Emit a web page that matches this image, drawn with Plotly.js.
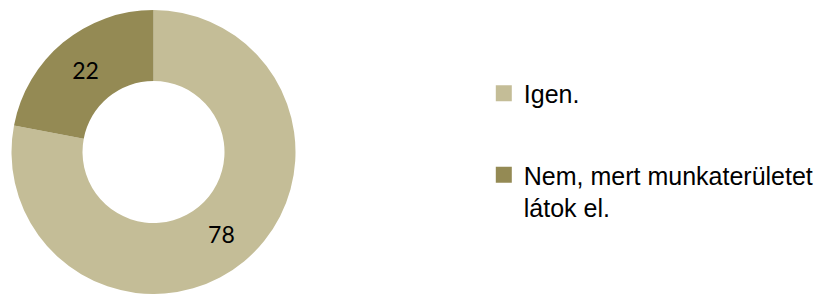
<!DOCTYPE html>
<html><head><meta charset="utf-8">
<script src="https://cdn.plot.ly/plotly-3.0.1.min.js"></script>
<style>body{margin:0;background:#fff}#c{width:820px;height:294px}</style>
</head><body><div id="c"></div>
<script>
const labels = ["Igen.", "Nem, mert munkaterületet<br>látok el."];
const values = [78, 22];
const colors = ["#c4bd97", "#948a54"];

const pie = {
  type: 'pie',
  labels: labels,
  values: values,
  hole: 0.5,
  sort: false,
  direction: 'clockwise',
  rotation: 0,
  marker: {colors: colors, line: {width: 0}},
  textinfo: 'value',
  textposition: 'inside',
  insidetextorientation: 'horizontal',
  textfont: {family: 'Lato, "Open Sans", sans-serif', size: 23, color: '#000'},
  hoverinfo: 'none',
  showlegend: false,
  domain: {x: [11.5/820, 295.5/820], y: [0, 284/294]}
};
// legend entries, one per category, coloured as the slices
const legendTraces = labels.map((lab, i) => ({
  type: 'scatter', mode: 'markers', x: [null], y: [null],
  name: lab, legendgroup: 'g' + i, showlegend: true,
  marker: {symbol: 'square', size: 16, color: colors[i]},
  hoverinfo: 'none'
}));

Plotly.newPlot('c', [pie].concat(legendTraces), {
  width: 820, height: 294,
  margin: {l: 0, r: 0, t: 0, b: 0, autoexpand: false},
  paper_bgcolor: '#fff', plot_bgcolor: 'rgba(0,0,0,0)',
  xaxis: {visible: false}, yaxis: {visible: false},
  showlegend: true,
  legend: {
    x: 0.590, y: 0.76, xanchor: 'left', yanchor: 'top',
    font: {family: '"Liberation Sans Narrow", "Arial Narrow", "Liberation Sans", sans-serif', size: 25, color: '#000'},
    traceorder: 'grouped', tracegroupgap: 46, valign: 'top',
    itemwidth: 30, bgcolor: 'rgba(0,0,0,0)'
  }
}, {staticPlot: true});
</script></body></html>
